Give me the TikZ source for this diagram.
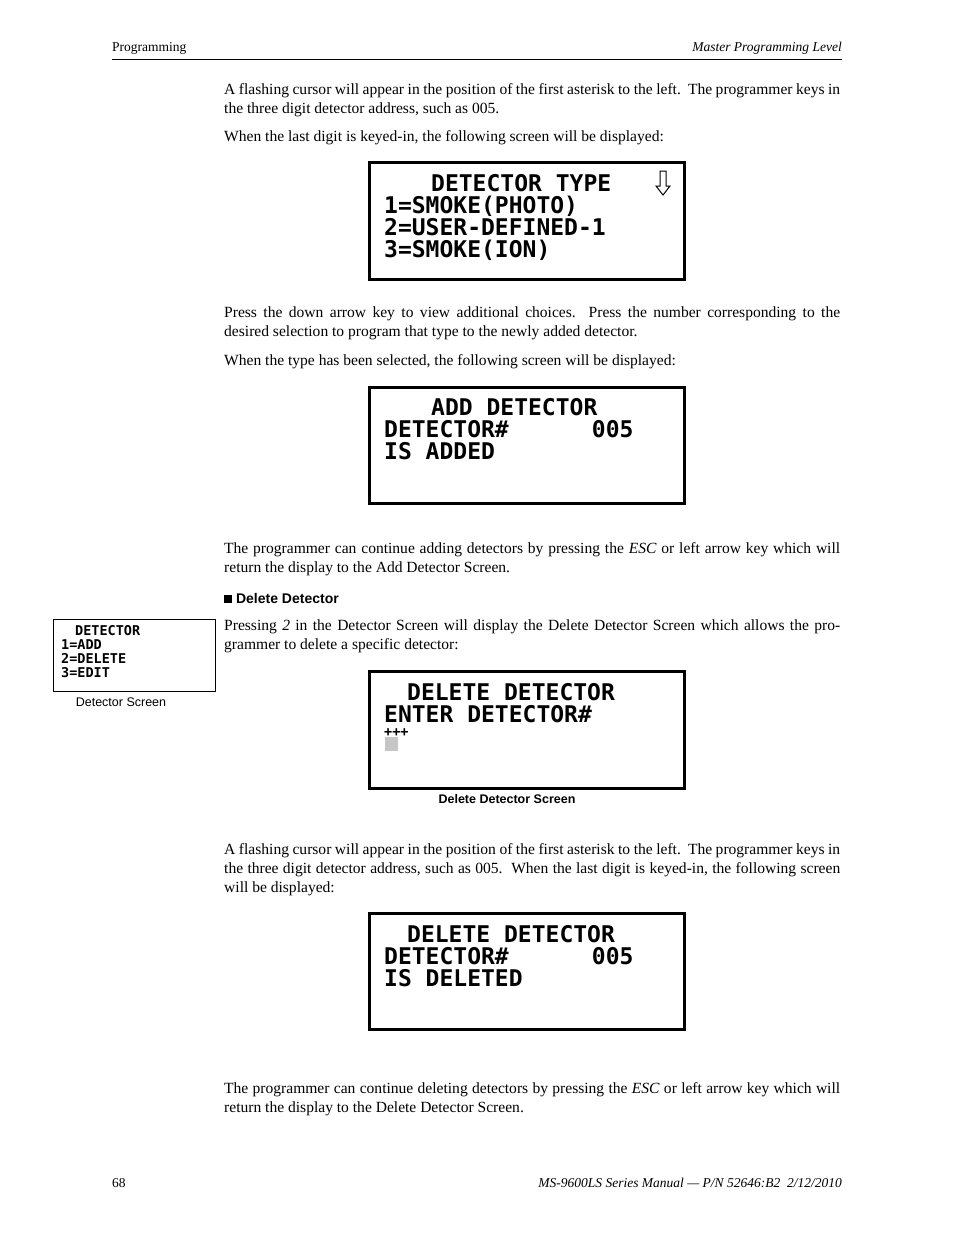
\documentclass[tikz,border=0pt]{standalone}
\usepackage{fontspec}
\setmainfont{Liberation Serif}
\newfontfamily\arial{Liberation Sans}
\newfontfamily\lcd{DejaVu Sans Mono}
\tikzset{
 scr/.style={draw, line width=3pt},
 lcdt/.style={anchor=base west, inner sep=0, font=\lcd\bfseries\fontsize{23}{23}\selectfont},
 small/.style={anchor=base west, inner sep=0, font=\lcd\bfseries\fontsize{13.5}{13.5}\selectfont},
 para/.style={anchor=north west, inner sep=0, text width=616pt, align=justify, font=\fontsize{15.55}{19}\selectfont},
 hdr/.style={inner sep=0, font=\fontsize{13.5}{15}\selectfont}
}
\newcommand{\ls}[1]{#1}
\begin{document}
\begin{tikzpicture}[x=1pt,y=-1pt]
\useasboundingbox (0,0) rectangle (954,1235);
\node[hdr, anchor=base west] (h1) at (112,51) {Programming};
\node[hdr, anchor=base east] (h2) at (842,51) {\itshape Master Programming Level};
\draw[line width=0.8pt] (112,59) -- (842,59);
\node[para] (p1) at (224,83) {A flashing cursor will appear in the position of the first asterisk to the left.\ \ The programmer keys in\linebreak the three digit detector address, such as 005.};
\node[para] (p2) at (224,130) {When the last digit is keyed-in, the following screen will be displayed:};
% screen 1
\draw[scr] (369.5,162.5) rectangle (684.5,279.5);
\node[lcdt] (s1a) at (431,191) {\ls{DETECTOR TYPE}};
\node[lcdt] (s1b) at (384,213) {\ls{1=SMOKE(PHOTO)}};
\node[lcdt] (s1c) at (384,235) {\ls{2=USER-DEFINED-1}};
\node[lcdt] (s1d) at (384,257) {\ls{3=SMOKE(ION)}};
\draw[line width=1pt] (660,171) -- (666,171) -- (666,186) -- (670,186) -- (663,195) -- (656,186) -- (660,186) -- cycle;
\node[para] (p3) at (224,307) {Press the down arrow key to view additional choices.\ \ Press the number corresponding to the\linebreak desired selection to program that type to the newly added detector.};
\node[para] (p4) at (224,354) {When the type has been selected, the following screen will be displayed:};
% screen 2
\draw[scr] (369.5,387.5) rectangle (684.5,503.5);
\node[lcdt] (s2a) at (431,415) {\ls{ADD DETECTOR}};
\node[lcdt] (s2b) at (384,437) {\ls{DETECTOR\#\ \ \ \ \ \ 005}};
\node[lcdt] (s2c) at (384,459) {\ls{IS ADDED}};
\node[para] (p5) at (224,542) {The programmer can continue adding detectors by pressing the \textit{ESC} or left arrow key which will\linebreak return the display to the Add Detector Screen.};
\node[anchor=base west, inner sep=0, font=\arial\bfseries\fontsize{14}{16}\selectfont] (dd) at (224,603) {\rule{8pt}{8pt} Delete Detector};
% small box
\draw[line width=1pt] (53.5,619.5) rectangle (215.5,691.5);
\node[small] (d1) at (75,635) {DETECTOR};
\node[small] (d2) at (61,649) {1=ADD};
\node[small] (d3) at (61,663) {2=DELETE};
\node[small] (d4) at (61,677) {3=EDIT};
\node[anchor=base, inner sep=0, font=\arial\fontsize{12.5}{14}\selectfont] (dc) at (121,706) {Detector Screen};
\node[para] (p6) at (224,620) {Pressing \textit{2} in the Detector Screen will display the Delete Detector Screen which allows the pro-\linebreak grammer to delete a specific detector:};
% screen 3
\draw[scr] (369.5,671.5) rectangle (684.5,788.5);
\node[lcdt] (s3a) at (407,700) {\ls{DELETE DETECTOR}};
\node[lcdt] (s3b) at (384,722) {\ls{ENTER DETECTOR\#}};
\node[small] (s3c) at (384,736) {+++};
\fill[gray!45] (385,737) rectangle (398,751);
\node[anchor=base, inner sep=0, font=\arial\bfseries\fontsize{12.5}{14}\selectfont] (sc3) at (507,803) {Delete Detector Screen};
\node[para] (p7) at (224,843) {A flashing cursor will appear in the position of the first asterisk to the left.\ \ The programmer keys in\linebreak the three digit detector address, such as 005.\ \ When the last digit is keyed-in, the following screen\linebreak will be displayed:};
% screen 4
\draw[scr] (369.5,913.5) rectangle (684.5,1029.5);
\node[lcdt] (s4a) at (407,942) {\ls{DELETE DETECTOR}};
\node[lcdt] (s4b) at (384,964) {\ls{DETECTOR\#\ \ \ \ \ \ 005}};
\node[lcdt] (s4c) at (384,986) {\ls{IS DELETED}};
\node[para] (p8) at (224,1082) {The programmer can continue deleting detectors by pressing the \textit{ESC} or left arrow key which will\linebreak return the display to the Delete Detector Screen.};
\node[hdr, anchor=base west] (f1) at (112,1187) {68};
\node[hdr, anchor=base east] (f2) at (842,1187) {\itshape MS-9600LS Series Manual --- P/N 52646:B2\ \ 2/12/2010};
\end{tikzpicture}
\end{document}
